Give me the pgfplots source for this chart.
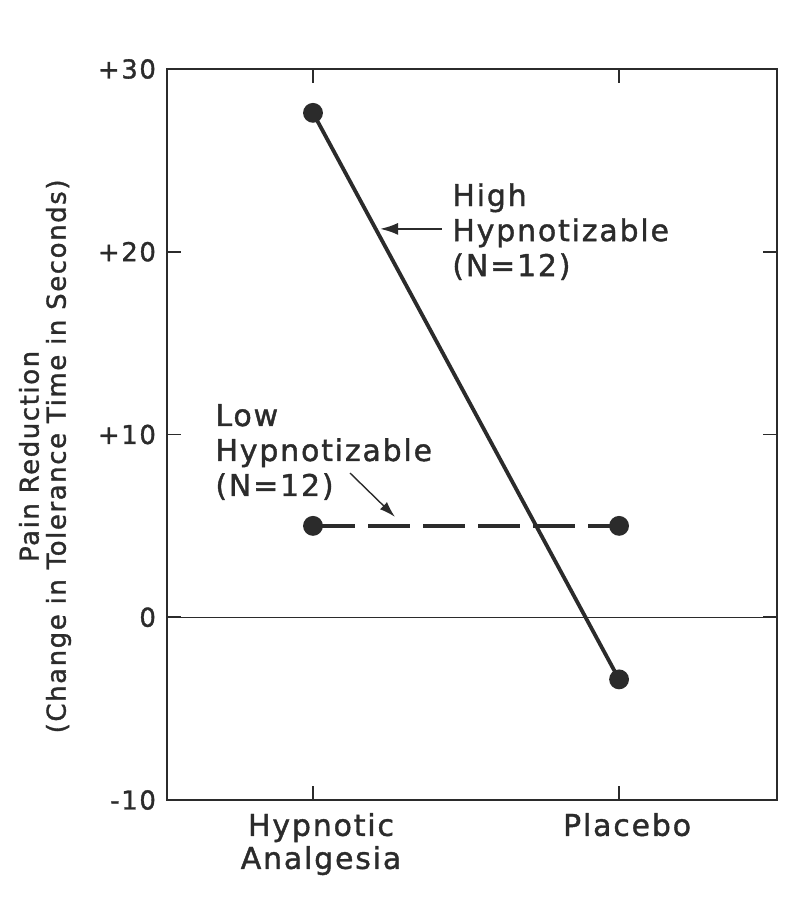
\documentclass[border=0pt]{standalone}
\usepackage{fontspec}
\setmainfont{DejaVu Sans}[LetterSpace=6, FakeBold=1.3]
\usepackage{pgfplots}
\pgfplotsset{compat=1.18}
\usetikzlibrary{arrows.meta}
\definecolor{ink}{HTML}{2B2B2B}
\begin{document}
\begin{tikzpicture}
\begin{axis}[name=ax, scale only axis, width=305pt, height=365.5pt,
 xmin=-0.477, xmax=1.516, ymin=-10, ymax=30,
 xtick={0,1}, xticklabels={{Hypnotic\\Analgesia},{Placebo}},
 ytick={-10,0,10,20,30}, yticklabels={-10,0,+10,+20,+30},
 tick align=inside, tick pos=both, major tick length=7pt,
 axis line style={ink, line width=0.8pt},
 tick style={ink, line width=0.8pt},
 yticklabel style={font=\fontsize{13}{14}\selectfont, text=ink, xshift=-2pt},
 xticklabel style={font=\fontsize{15}{16.5}\selectfont, text=ink, align=center, xshift=4pt, yshift=-3pt},
 ylabel={Pain Reduction\\(Change in Tolerance Time in Seconds)},
 ylabel style={at={(axis description cs:-0.2,0.47)}, anchor=center, align=center, font=\fontsize{13}{13.5}\selectfont, text=ink},
 clip=false,
]
\addplot[ink, line width=0.55pt, forget plot] coordinates {(-0.477,0) (1.516,0)};
\addplot[ink, line width=1.9pt, mark=*, mark size=4pt, mark options={fill=ink}] coordinates {(0,27.6) (1,-3.4)};
\addplot[ink, line width=1.9pt, dash pattern=on 21pt off 6.5pt, mark=*, mark size=4pt, mark options={solid, fill=ink}] coordinates {(0,5) (1,5)};
\node[anchor=west, align=left, inner sep=0pt, text=ink, font=\fontsize{15}{17.5}\selectfont] at (axis cs:0.454,21.1) {High\\Hypnotizable\\(N=12)};
\draw[ink, line width=1pt, -{Latex[length=9pt,width=6pt]}] (axis cs:0.42,21.25) -- (axis cs:0.219,21.25);
\node[anchor=west, align=left, inner sep=0pt, text=ink, font=\fontsize{15}{17.5}\selectfont] at (axis cs:-0.32,9.04) {Low\\Hypnotizable\\(N=12)};
\draw[ink, line width=0.7pt, -{Latex[length=8pt,width=5pt]}] (axis cs:0.121,7.89) -- (axis cs:0.268,5.49);
\end{axis}
\pgfresetboundingbox
\path[use as bounding box] ([xshift=-83.5pt,yshift=-58.5pt]ax.south west) rectangle ([xshift=4pt,yshift=34.5pt]ax.north east);
\end{tikzpicture}
\end{document}
